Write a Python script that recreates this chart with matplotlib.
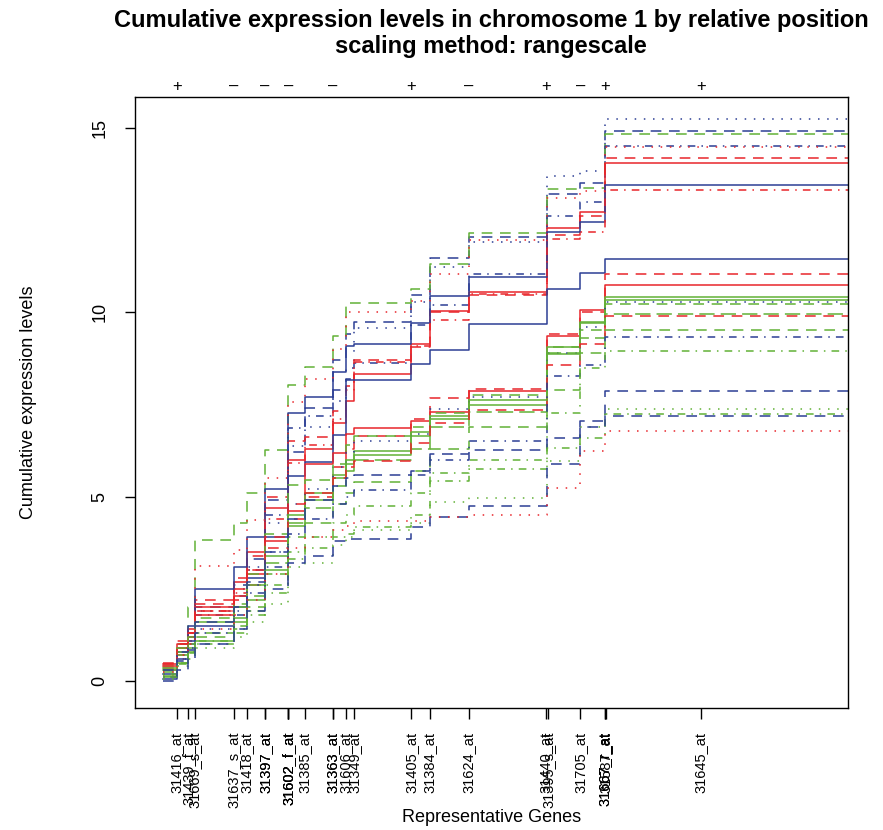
import matplotlib
matplotlib.use("Agg")
import matplotlib.pyplot as plt
import matplotlib.transforms as mtransforms

plt.rcParams['font.family'] = ['Liberation Sans', 'DejaVu Sans']

# relative positions of the representative genes on chromosome 1
gene_pos = [0.020, 0.037, 0.046, 0.103, 0.122, 0.149, 0.149, 0.183, 0.183, 0.183,
            0.207, 0.248, 0.248, 0.267, 0.279, 0.362, 0.389, 0.446, 0.559, 0.562,
            0.609, 0.645, 0.645, 0.646, 0.785]
gene_names = ["31416_at", "31439_f_at", "31669_s_at", "31637_s_at", "31418_at",
              "31392_at", "31397_at", "31508_at", "31523_at", "31602_f_at",
              "31385_at", "31365_at", "31363_at", "31606_at", "31349_at",
              "31405_at", "31384_at", "31624_at", "31440_at", "31395_s_at",
              "31705_at", "31515_at", "31667_r_at", "31587_at", "31645_at"]

strand_pos = [0.020, 0.103, 0.149, 0.183, 0.248, 0.362, 0.446, 0.559, 0.609, 0.645, 0.785]
strand_sign = ["+", "–", "–", "–", "–", "+", "–", "+", "–", "+", "+"]

# x where the cumulative curves step up
steps_x = [0.0, 0.020, 0.037, 0.046, 0.103, 0.122, 0.149, 0.183, 0.207, 0.248,
           0.267, 0.279, 0.362, 0.389, 0.446, 0.560, 0.609, 0.645, 1.0]

# cumulative levels per sample (one value per step interval)
samples = {
    "U1": ("blue", "dotted",
           [0.2, 0.8, 1.1, 1.9, 2.5, 3.1, 4.3, 6.37, 6.9, 7.6, 8.5, 9.58, 10.28, 11.24, 11.9, 13.7, 13.84, 15.24]),
    "U2": ("blue", "dashed",
           [0.3, 0.9, 1.2, 2.0, 2.6, 3.3, 4.9, 6.2, 7.41, 8.7, 9.4, 9.74, 10.46, 11.47, 12.05, 13.2, 13.5, 14.91]),
    "U3": ("green", "dashed",
           [0.4, 1.0, 2.0, 3.83, 4.3, 5.1, 6.28, 8.04, 8.53, 9.36, 10.24, 10.26, 10.62, 11.32, 12.15, 13.34, 13.38, 14.84]),
    "U4": ("blue", "dotdash",
           [0.1, 0.7, 1.0, 1.8, 2.3, 3.0, 4.5, 6.87, 7.2, 7.9, 8.2, 8.63, 9.66, 10.2, 11.03, 12.6, 13.0, 14.5]),
    "U5": ("red", "dashed",
           [0.35, 0.9, 1.3, 2.2, 2.8, 3.4, 5.0, 6.5, 6.63, 7.32, 8.0, 8.70, 9.07, 10.0, 10.46, 12.1, 12.6, 14.18]),
    "U6": ("red", "solid",
           [0.45, 1.0, 1.4, 2.0, 2.7, 3.5, 4.7, 6.0, 6.3, 7.0, 7.6, 8.32, 9.15, 10.04, 10.55, 12.28, 12.73, 14.05]),
    "U7": ("blue", "solid",
           [0.2, 0.8, 1.5, 2.5, 3.1, 3.9, 5.2, 7.28, 7.71, 8.37, 9.1, 9.13, 9.72, 10.44, 10.95, 12.17, 12.45, 13.46]),
    "U8": ("red", "dotdash",
           [0.3, 0.7, 1.1, 1.9, 2.4, 3.0, 4.4, 5.92, 6.4, 7.1, 7.9, 8.65, 9.1, 9.79, 10.5, 12.0, 12.17, 13.33]),
    "U9": ("red", "dotted",
           [0.15, 0.6, 1.2, 3.12, 3.56, 4.36, 5.5, 7.56, 8.18, 9.0, 10.0, 10.01, 10.3, 11.03, 11.95, 13.1, 13.3, 14.48]),
    "L1": ("blue", "solid",
           [0.05, 0.6, 1.0, 1.5, 2.0, 2.8, 3.9, 5.55, 5.93, 6.68, 8.16, 8.16, 8.59, 8.98, 9.68, 10.63, 11.06, 11.45]),
    "L2": ("red", "dashed",
           [0.5, 1.1, 1.3, 1.9, 2.2, 2.6, 3.6, 4.4, 5.0, 5.8, 6.3, 6.64, 7.11, 7.68, 7.92, 9.4, 10.0, 11.05]),
    "L3": ("red", "solid",
           [0.4, 0.9, 1.2, 1.8, 2.3, 2.9, 3.8, 4.6, 5.9, 6.19, 6.7, 6.87, 7.05, 7.3, 7.88, 9.35, 10.05, 10.75]),
    "L4": ("green", "solid",
           [0.35, 0.8, 1.0, 1.6, 2.0, 2.6, 3.4, 4.5, 5.1, 5.6, 6.0, 6.23, 6.75, 7.18, 7.62, 9.07, 9.75, 10.42]),
    "L5": ("green", "solid",
           [0.3, 0.7, 0.9, 1.1, 1.6, 2.2, 3.0, 4.2, 4.9, 5.5, 5.9, 6.14, 6.66, 7.1, 7.5, 8.86, 9.7, 10.33]),
    "L6": ("blue", "dotted",
           [0.2, 0.6, 0.9, 1.4, 1.9, 2.6, 3.5, 4.8, 5.2, 5.8, 6.2, 6.50, 6.7, 7.38, 7.7, 8.9, 9.6, 10.28]),
    "L7": ("green", "dashed",
           [0.25, 0.9, 1.2, 1.7, 2.1, 2.9, 4.0, 5.33, 5.46, 5.9, 6.4, 6.64, 6.89, 7.27, 7.77, 9.07, 9.53, 10.22]),
    "L8": ("green", "longdash",
           [0.15, 0.5, 0.8, 1.3, 1.7, 2.3, 3.2, 4.3, 4.7, 5.3, 5.7, 6.0, 6.3, 6.9, 7.3, 8.9, 9.3, 9.96]),
    "L9": ("red", "dashed",
           [0.45, 1.0, 1.3, 2.1, 2.5, 3.0, 3.9, 4.8, 5.1, 5.5, 5.8, 5.96, 6.46, 7.0, 7.34, 8.56, 9.13, 9.9]),
    "L10": ("green", "dashed",
            [0.1, 0.5, 0.8, 1.2, 1.5, 2.0, 2.9, 3.9, 4.3, 4.8, 5.1, 5.4, 5.7, 6.3, 6.9, 7.9, 8.9, 9.53]),
    "L11": ("blue", "dotdash",
            [0.1, 0.55, 0.85, 1.3, 1.8, 2.4, 3.1, 4.0, 4.4, 4.8, 5.0, 5.19, 5.6, 6.0, 6.52, 8.27, 8.56, 9.33]),
    "L12": ("green", "dotdash",
            [0.2, 0.5, 0.7, 1.0, 1.3, 1.9, 2.6, 3.5, 3.9, 4.3, 4.5, 4.74, 5.1, 5.64, 6.0, 7.26, 8.5, 8.95]),
    "L13": ("blue", "dashed",
            [0.3, 0.8, 1.1, 1.6, 2.0, 2.7, 3.5, 4.4, 4.9, 5.3, 5.5, 5.60, 5.69, 6.17, 6.26, 6.6, 7.05, 7.88]),
    "L14": ("green", "dotted",
            [0.05, 0.4, 0.6, 0.9, 1.2, 1.6, 2.1, 3.1, 3.2, 3.7, 3.9, 4.10, 4.3, 4.85, 4.97, 5.96, 6.9, 7.38]),
    "L15": ("green", "dotdash",
            [0.1, 0.45, 0.75, 1.1, 1.4, 1.8, 2.4, 3.3, 3.6, 3.9, 4.0, 4.19, 4.5, 5.42, 5.76, 6.33, 6.6, 7.23]),
    "L16": ("blue", "dashed",
            [0.0, 0.3, 0.6, 1.0, 1.4, 1.9, 2.5, 3.2, 3.4, 3.8, 3.85, 3.85, 4.19, 4.46, 4.74, 5.9, 6.9, 7.18]),
    "L17": ("red", "dotted",
            [0.25, 0.7, 1.0, 1.4, 1.8, 2.2, 2.9, 3.6, 3.9, 4.1, 4.2, 4.33, 4.33, 4.46, 4.5, 5.24, 6.23, 6.77]),
}

colors = {"red": "#e8262b", "green": "#62b137", "blue": "#2c3e94"}
dashes = {"solid": "-", "dashed": (0, (7, 5)), "dotted": (0, (1, 5)),
          "dotdash": (0, (1, 4, 5, 4)), "longdash": (0, (10, 4))}

fig = plt.figure(figsize=(8.83, 8.30), dpi=100)
ax = fig.add_axes([135 / 883, 1 - 708 / 830, 713 / 883, 611 / 830])

for name, (col, lty, levels) in samples.items():
    ax.step(steps_x, levels + [levels[-1]], where="post",
            color=colors[col], linestyle=dashes[lty], lw=1.1)

ax.set_xlim(-0.041, 1.0)
ax.set_ylim(-0.73, 15.84)

ax.set_yticks([0, 5, 10, 15])
ax.set_yticklabels(["0", "5", "10", "15"], rotation=90, va="center", fontsize=13)
ax.tick_params(axis="y", length=7, pad=12, width=1)

ax.set_xticks(gene_pos)
ax.set_xticklabels(gene_names, rotation=90, fontsize=10.5)
ax.tick_params(axis="x", length=8, pad=9, width=1)

for sp in ax.spines.values():
    sp.set_linewidth(1.0)

trans = mtransforms.blended_transform_factory(ax.transData, ax.transAxes)
for p, s in zip(strand_pos, strand_sign):
    ax.text(p, 1.018, s, transform=trans, ha="center", va="center", fontsize=12)

ax.set_ylabel("Cumulative expression levels", fontsize=13, va="center")
ax.yaxis.set_label_coords(-0.150, 0.5)
ax.set_xlabel("Representative Genes", fontsize=13, va="center")
ax.xaxis.set_label_coords(0.5, -0.18)

fig.text(491 / 883, 1 - 20 / 830, "Cumulative expression levels in chromosome 1 by relative position",
         ha="center", va="center", fontsize=17, fontweight="bold")
fig.text(491 / 883, 1 - 47 / 830, "scaling method: rangescale",
         ha="center", va="center", fontsize=17, fontweight="bold")

fig.savefig("out.png", dpi=100)
